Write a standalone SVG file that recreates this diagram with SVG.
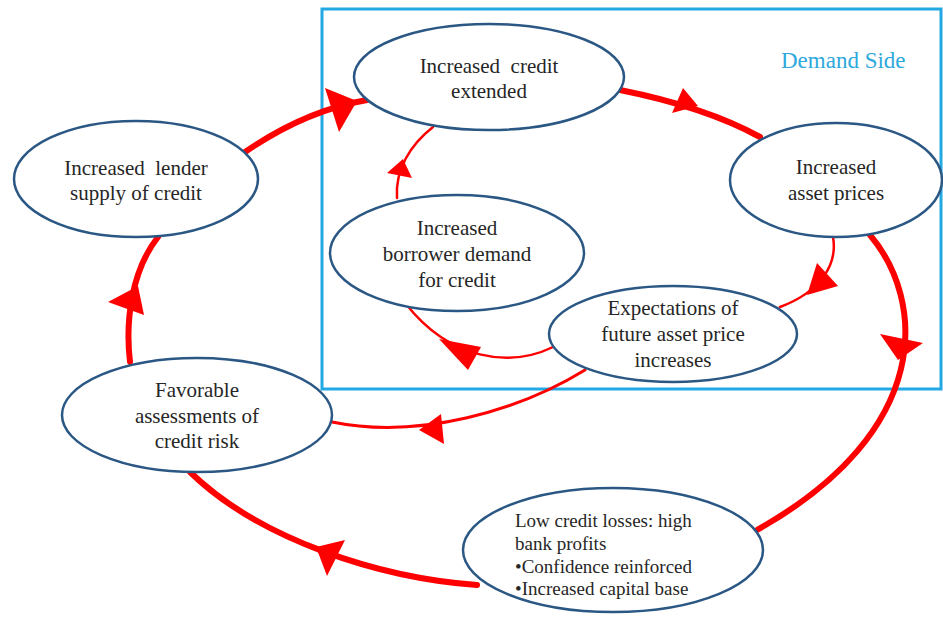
<svg xmlns="http://www.w3.org/2000/svg" width="943" height="617" viewBox="0 0 943 617">
<style>
.node ellipse{fill:#fff;stroke:#2A5783;stroke-width:2.5}
.node text{font-family:'Liberation Serif','DejaVu Serif',serif;font-size:21px;fill:#262626;text-anchor:middle}
.node text.small{font-size:19px;text-anchor:start}
.thick{fill:none;stroke:#FF0000;stroke-width:6;stroke-linecap:round}
.thin{fill:none;stroke:#FF0000;stroke-width:2.5;stroke-linecap:round}
.mid{fill:none;stroke:#FF0000;stroke-width:3;stroke-linecap:round}
.head{fill:#FF0000;stroke:none}
.box{fill:none;stroke:#22A8E3;stroke-width:3}
.label{font-family:'Liberation Serif','DejaVu Serif',serif;font-size:23px;fill:#2FA8DC}
</style>
<rect x="0" y="0" width="943" height="617" fill="#fff"/>
<g id="demand-side">
<rect class="box" x="322" y="9" width="619" height="380"/>
<text class="label" x="781" y="68" font-family="Liberation Serif, serif">Demand Side</text>
</g>
<g id="connectors">
<path class="thick" d="M245,152 C280,128 320,108 367,100"/>
<polygon class="head" points="325,88 339,132 357,101"/>
<path class="thick" d="M620,90 C670,100 720,115 760,137"/>
<polygon class="head" points="683,88 672,113 698,106"/>
<path class="thick" d="M870,235 C925,300 935,430 757,530"/>
<polygon class="head" points="880,334 923,343 898,360"/>
<path class="thick" d="M477,585 C380,578 260,540 190,472"/>
<polygon class="head" points="345,540 316,547 327,576"/>
<path class="thick" d="M130,362 C125,320 132,270 158,237"/>
<polygon class="head" points="108,302 138,286 144,315"/>
<path class="thin" d="M397,198 C395,170 410,145 433,127"/>
<polygon class="head" points="387,173 403,159 412,178"/>
<path class="thin" d="M553,347 C510,368 450,360 406,304"/>
<polygon class="head" points="439,339 481,347 468,370"/>
<path class="thin" d="M833,237 C838,265 820,292 780,307"/>
<polygon class="head" points="817,263 838,286 807,295"/>
<path class="mid" d="M585,370 C520,410 420,440 332,422"/>
<polygon class="head" points="441,414 444,444 419,430"/>
</g>
<g id="node-credit-extended" class="node">
<ellipse cx="489" cy="77" rx="135" ry="53"/>
<text x="489" y="73">Increased&#160; credit</text>
<text x="489" y="98">extended</text>
</g>
<g id="node-lender-supply" class="node">
<ellipse cx="136" cy="179" rx="122" ry="58"/>
<text x="136" y="175">Increased&#160; lender</text>
<text x="136" y="200">supply of credit</text>
</g>
<g id="node-asset-prices" class="node">
<ellipse cx="836" cy="180" rx="106" ry="57"/>
<text x="836" y="174">Increased</text>
<text x="836" y="200">asset prices</text>
</g>
<g id="node-borrower-demand" class="node">
<ellipse cx="457" cy="253" rx="127" ry="58"/>
<text x="457" y="235">Increased</text>
<text x="457" y="261">borrower demand</text>
<text x="457" y="287">for credit</text>
</g>
<g id="node-expectations" class="node">
<ellipse cx="673" cy="334" rx="124" ry="48"/>
<text x="673" y="315">Expectations of</text>
<text x="673" y="341">future asset price</text>
<text x="673" y="367">increases</text>
</g>
<g id="node-favorable-assessments" class="node">
<ellipse cx="197" cy="415" rx="135" ry="57"/>
<text x="197" y="397">Favorable</text>
<text x="197" y="423">assessments of</text>
<text x="197" y="448">credit risk</text>
</g>
<g id="node-low-credit-losses" class="node">
<ellipse cx="613" cy="550" rx="150" ry="62"/>
<text class="small" x="515" y="527">Low credit losses: high</text>
<text class="small" x="515" y="550">bank profits</text>
<text class="small" x="515" y="573">•Confidence reinforced</text>
<text class="small" x="515" y="595">•Increased capital base</text>
</g>
</svg>
